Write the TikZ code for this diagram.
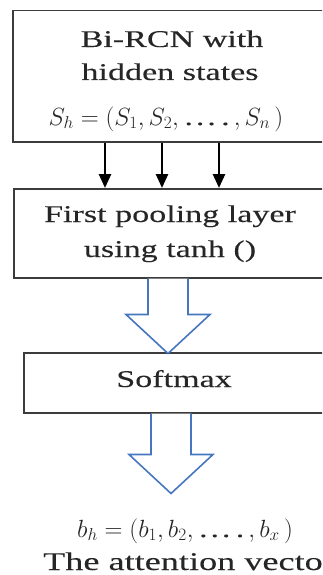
\documentclass[tikz,border=0pt]{standalone}
\usepackage{fontspec}
\setmainfont{Liberation Serif}[FakeStretch=1.42,FakeBold=0.12]
\usetikzlibrary{arrows.meta}
\definecolor{boxgray}{HTML}{3C3C3C}
\definecolor{textgray}{HTML}{262626}
\definecolor{arrowblue}{RGB}{70,118,192}
\begin{document}
\begin{tikzpicture}[x=1pt,y=-1pt,
  box/.style={draw=boxgray, line width=1.5pt, anchor=north west, inner sep=0pt, minimum width=340pt},
  txt/.style={font=\fontsize{24}{28}\selectfont, text=textgray, inner sep=0pt, anchor=base},
  feed/.style={line width=2.6pt, -{Triangle[length=14pt,width=12pt]}},
  hollow/.style={draw=arrowblue, line width=1.6pt, fill=white, line join=miter}]
\useasboundingbox (0,0) rectangle (322,575);
\clip (0,0) rectangle (322,575);

% three stacked boxes, running off the right edge
\node[box, minimum height=131pt] (rcn)  at (12,10)  {};
\node[box, minimum height=89pt]  (pool) at (13,188) {};
\node[box, minimum height=60pt]  (soft) at (23,352) {};

% box labels
\node[txt] (rcnA) at (172,47)  {Bi-RCN with};
\node[txt] (rcnB) at (170,80)  {hidden states};
\node[txt] (rcnC) at (166,125) {$S_h = (S_1, S_2, \mbox{…\,.}\,, S_n\,)$};
\node[txt] (poolA) at (170,222) {First pooling layer};
\node[txt] (poolB) at (170,257) {using tanh ()};
\node[txt] (softA) at (174,387) {Softmax};

% hidden states feeding the pooling layer
\draw[feed] ([xshift=93pt]rcn.south west)  -- ([xshift=92pt]pool.north west);
\draw[feed] ([xshift=150pt]rcn.south west) -- ([xshift=149pt]pool.north west);
\draw[feed] ([xshift=207pt]rcn.south west) -- ([xshift=206pt]pool.north west);

% hollow block arrows
\draw[hollow] ([xshift=135pt]pool.south west) -- ++(0,36) -- ++(-22,0) -- ++(42,39)
  -- ++(42,-39) -- ++(-22,0) -- ++(0,-36);
\draw[hollow] ([xshift=128pt]soft.south west) -- ++(0,41) -- ++(-22,0) -- ++(42,39)
  -- ++(42,-39) -- ++(-22,0) -- ++(0,-41);

% output
\node[txt] (outA) at (185,537) {$b_h = (b_1, b_2, \mbox{…\,.}\,, b_x\,)$};
\node[txt, font=\fontsize{25.5}{30}\selectfont, anchor=base west] (outB) at (43,570) {The attention vector};
\end{tikzpicture}
\end{document}
